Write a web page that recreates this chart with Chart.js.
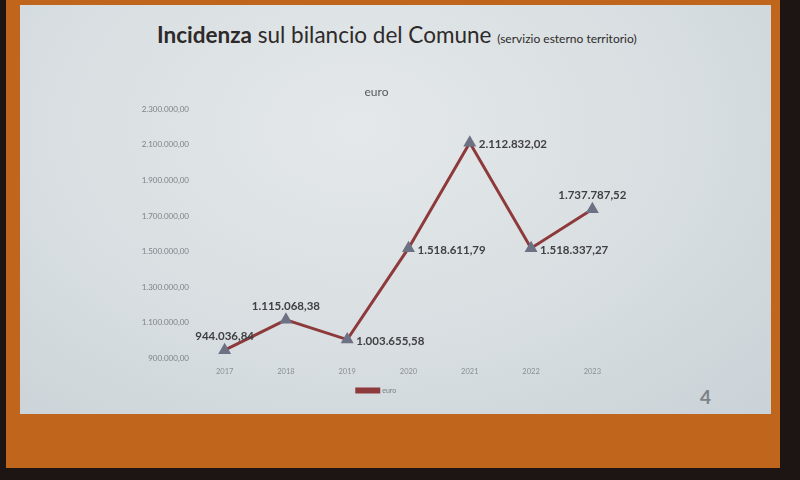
<!DOCTYPE html>
<html>
<head>
<meta charset="utf-8">
<script src="https://cdn.jsdelivr.net/npm/chart.js@4.4.1/dist/chart.umd.min.js"></script>
<style>
  html, body { margin: 0; padding: 0; }
  body { width: 800px; height: 480px; background: #1c1514; position: relative; overflow: hidden; font-family: Lato, "Open Sans", sans-serif; }
  #frame { position: absolute; left: 6px; top: 0; width: 774px; height: 468px; background: #bf661c; }
  #slide { position: absolute; left: 20px; top: 5px; width: 751px; height: 409px;
    background: radial-gradient(ellipse at 45% 30%, #e4e8ea 0%, #d8dee1 55%, #c9d2d7 100%); }
  #title { position: absolute; left: 157px; top: 21px; font-size: 22.5px; color: #2e2a2a; white-space: nowrap; }
  #title b { font-weight: 700; }
  #title small { font-size: 12px; }
  #page { position: absolute; left: 700px; top: 385px; font-size: 19px; font-weight: 700; color: #7d8188; }
  #wrap { position: absolute; left: 130px; top: 78px; width: 560px; height: 328px; }
</style>
</head>
<body>
<div id="frame"></div>
<div id="slide"></div>
<div id="title"><b>Incidenza</b> sul bilancio del Comune <small>(servizio esterno territorio)</small></div>
<div id="page">4</div>
<div id="wrap"><canvas id="chart" width="560" height="328"></canvas></div>
<script>
// dati
var years = ["2017", "2018", "2019", "2020", "2021", "2022", "2023"];
var euro = [944036.84, 1115068.38, 1003655.58, 1518611.79, 2112832.02, 1518337.27, 1737787.52];
var yTicks = [900000, 1100000, 1300000, 1500000, 1700000, 1900000, 2100000, 2300000];
var labelSide = ["top", "top", "right", "right", "right", "right", "top"];

function fmtIt(v, dec) {
    var parts = v.toFixed(dec).split(".");
    var int = parts[0].replace(/\B(?=(\d{3})+(?!\d))/g, ".");
    return dec ? int + "," + parts[1] : int;
}

// etichette dei valori
var valueLabels = {
    id: 'valueLabels',
    afterDatasetsDraw: function (chart) {
        var ctx = chart.ctx;
        var meta = chart.getDatasetMeta(0);
        ctx.save();
        ctx.font = "bold 11.5px Lato";
        ctx.fillStyle = "#3f3f44";
        ctx.textBaseline = "middle";
        meta.data.forEach(function (pt, i) {
            var txt = fmtIt(euro[i], 2);
            if (labelSide[i] == "top") {
                ctx.textAlign = "center";
                ctx.fillText(txt, pt.x, pt.y - 14);
            } else {
                ctx.textAlign = "left";
                ctx.fillText(txt, pt.x + 9, pt.y + 2);
            }
        });
        ctx.restore();
    }
};

var ctx = document.getElementById('chart').getContext('2d');
var chart = new Chart(ctx, {
    type: 'line',
    data: {
        labels: years,
        datasets: [{
            label: "euro",
            data: euro,
            borderColor: '#8e3a3c',
            backgroundColor: '#8e3a3c',
            borderWidth: 3,
            pointStyle: 'triangle',
            pointRadius: 4.5,
            pointBackgroundColor: '#6c7283',
            pointBorderColor: '#6c7283',
            tension: 0
        }]
    },
    options: {
        responsive: false,
        animation: false,
        devicePixelRatio: 1,
        layout: { padding: { left: 0, right: 67, top: 0, bottom: 2 } },
        plugins: {
            title: {
                display: true,
                text: "euro",
                color: '#555a60',
                font: { family: 'Lato', size: 12, weight: 'normal' },
                padding: { top: 7, bottom: 10 }
            },
            legend: {
                position: 'bottom',
                labels: {
                    color: '#7a7f86',
                    font: { family: 'Lato', size: 7 },
                    boxWidth: 22,
                    boxHeight: 3,
                    padding: 2
                }
            },
            tooltip: { enabled: false }
        },
        scales: {
            x: {
                offset: true,
                grid: { display: false, drawTicks: false },
                border: { display: false },
                ticks: { color: '#8a8f95', font: { family: 'Lato', size: 7.5 }, padding: 9, autoSkip: false, maxRotation: 0 }
            },
            y: {
                min: 900000,
                max: 2300000,
                afterBuildTicks: function (axis) {
                    axis.ticks = yTicks.map(function (v) { return { value: v }; });
                },
                afterFit: function (axis) { axis.width = 64; },
                grid: { display: false, drawTicks: false },
                border: { display: false },
                ticks: {
                    color: '#7d8289',
                    font: { family: 'Lato', size: 8 },
                    padding: 5,
                    autoSkip: false,
                    callback: function (v) { return fmtIt(v, 2); }
                }
            }
        }
    },
    plugins: [valueLabels]
});
</script>
</body>
</html>
